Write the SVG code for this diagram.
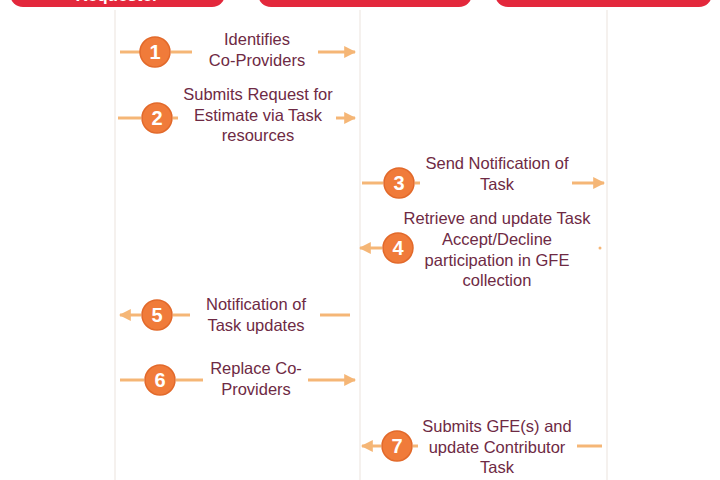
<svg xmlns="http://www.w3.org/2000/svg" width="720" height="480" viewBox="0 0 720 480">
<defs>
<style>
.hdr{fill:#e3283c}
.hdrt{fill:#fff;font-family:"Liberation Sans",Arial,sans-serif;font-weight:bold;font-size:17px;text-anchor:middle}
.life{stroke:#f2ece8;stroke-width:1.5}
.ln{stroke:#f5b676;stroke-width:3;fill:none}
.num{fill:#f07b3a;stroke:#e2692a;stroke-width:1.5}
.numt{fill:#fff;font-family:"Liberation Sans",Arial,sans-serif;font-weight:bold;font-size:20px;text-anchor:middle}
.lbl{fill:#6e2a44;font-family:"Liberation Sans",Arial,sans-serif;font-size:16.5px;text-anchor:middle}
</style>
<marker id="ah" viewBox="0 0 10 10" refX="9" refY="5" markerWidth="4" markerHeight="4" orient="auto-start-reverse" markerUnits="strokeWidth">
<path d="M0,0 L10,5 L0,10 z" fill="#f5b676"/>
</marker>
</defs>
<rect width="720" height="480" fill="#fff"/>
<g id="lifelines">
<line class="life" x1="115" y1="10" x2="115" y2="480"/>
<line class="life" x1="360" y1="10" x2="360" y2="480"/>
<line class="life" x1="607" y1="10" x2="607" y2="480"/>
</g>
<g id="requester">
<rect class="hdr" x="10" y="-40" width="215" height="47" rx="13"/>
<text class="hdrt" x="117" y="1">Requester</text>
</g>
<g id="lane2">
<rect class="hdr" x="258" y="-40" width="214" height="47" rx="13"/>
</g>
<g id="lane3">
<rect class="hdr" x="495" y="-40" width="217" height="47" rx="13"/>
</g>
<g id="connectors">
<line class="ln" x1="120" y1="52" x2="140" y2="52"/>
<line class="ln" x1="171" y1="52" x2="192" y2="52"/>
<line class="ln" x1="318" y1="52" x2="355" y2="52" marker-end="url(#ah)"/>
<line class="ln" x1="118" y1="118" x2="141" y2="118"/>
<line class="ln" x1="173" y1="118" x2="178" y2="118"/>
<line class="ln" x1="336" y1="118" x2="355" y2="118" marker-end="url(#ah)"/>
<line class="ln" x1="362" y1="183" x2="383" y2="183"/>
<line class="ln" x1="415" y1="183" x2="420" y2="183"/>
<line class="ln" x1="572" y1="183" x2="604" y2="183" marker-end="url(#ah)"/>
<line class="ln" x1="360" y1="248" x2="382" y2="248" marker-start="url(#ah)"/>
<circle cx="600" cy="248" r="1.5" fill="#f5b676"/>
<line class="ln" x1="120" y1="315" x2="141" y2="315" marker-start="url(#ah)"/>
<line class="ln" x1="173" y1="315" x2="190" y2="315"/>
<line class="ln" x1="320" y1="315" x2="350" y2="315"/>
<line class="ln" x1="120" y1="380" x2="144" y2="380"/>
<line class="ln" x1="176" y1="380" x2="203" y2="380"/>
<line class="ln" x1="308" y1="380" x2="355" y2="380" marker-end="url(#ah)"/>
<line class="ln" x1="362" y1="446" x2="381" y2="446" marker-start="url(#ah)"/>
<line class="ln" x1="413" y1="446" x2="418" y2="446"/>
<line class="ln" x1="577" y1="446" x2="602" y2="446"/>
</g>
<g id="step1">
<circle class="num" cx="155" cy="52" r="15"/>
<text class="numt" x="155" y="59">1</text>
<text class="lbl" x="257" y="45">Identifies</text>
<text class="lbl" x="257" y="66">Co-Providers</text>
</g>
<g id="step2">
<circle class="num" cx="157" cy="118" r="15"/>
<text class="numt" x="157" y="125">2</text>
<text class="lbl" x="258" y="100">Submits Request for</text>
<text class="lbl" x="258" y="121">Estimate via Task</text>
<text class="lbl" x="258" y="141">resources</text>
</g>
<g id="step3">
<circle class="num" cx="399" cy="183" r="15"/>
<text class="numt" x="399" y="190">3</text>
<text class="lbl" x="497" y="169">Send Notification of</text>
<text class="lbl" x="497" y="190">Task</text>
</g>
<g id="step4">
<circle class="num" cx="398" cy="248" r="15"/>
<text class="numt" x="398" y="255">4</text>
<text class="lbl" x="497" y="224">Retrieve and update Task</text>
<text class="lbl" x="497" y="245">Accept/Decline</text>
<text class="lbl" x="497" y="266">participation in GFE</text>
<text class="lbl" x="497" y="286">collection</text>
</g>
<g id="step5">
<circle class="num" cx="157" cy="315" r="15"/>
<text class="numt" x="157" y="322">5</text>
<text class="lbl" x="256" y="310">Notification of</text>
<text class="lbl" x="256" y="331">Task updates</text>
</g>
<g id="step6">
<circle class="num" cx="160" cy="380" r="15"/>
<text class="numt" x="160" y="387">6</text>
<text class="lbl" x="256" y="374">Replace Co-</text>
<text class="lbl" x="256" y="395">Providers</text>
</g>
<g id="step7">
<circle class="num" cx="397" cy="446" r="15"/>
<text class="numt" x="397" y="453">7</text>
<text class="lbl" x="497" y="432">Submits GFE(s) and</text>
<text class="lbl" x="497" y="453">update Contributor</text>
<text class="lbl" x="497" y="473">Task</text>
</g>
</svg>
